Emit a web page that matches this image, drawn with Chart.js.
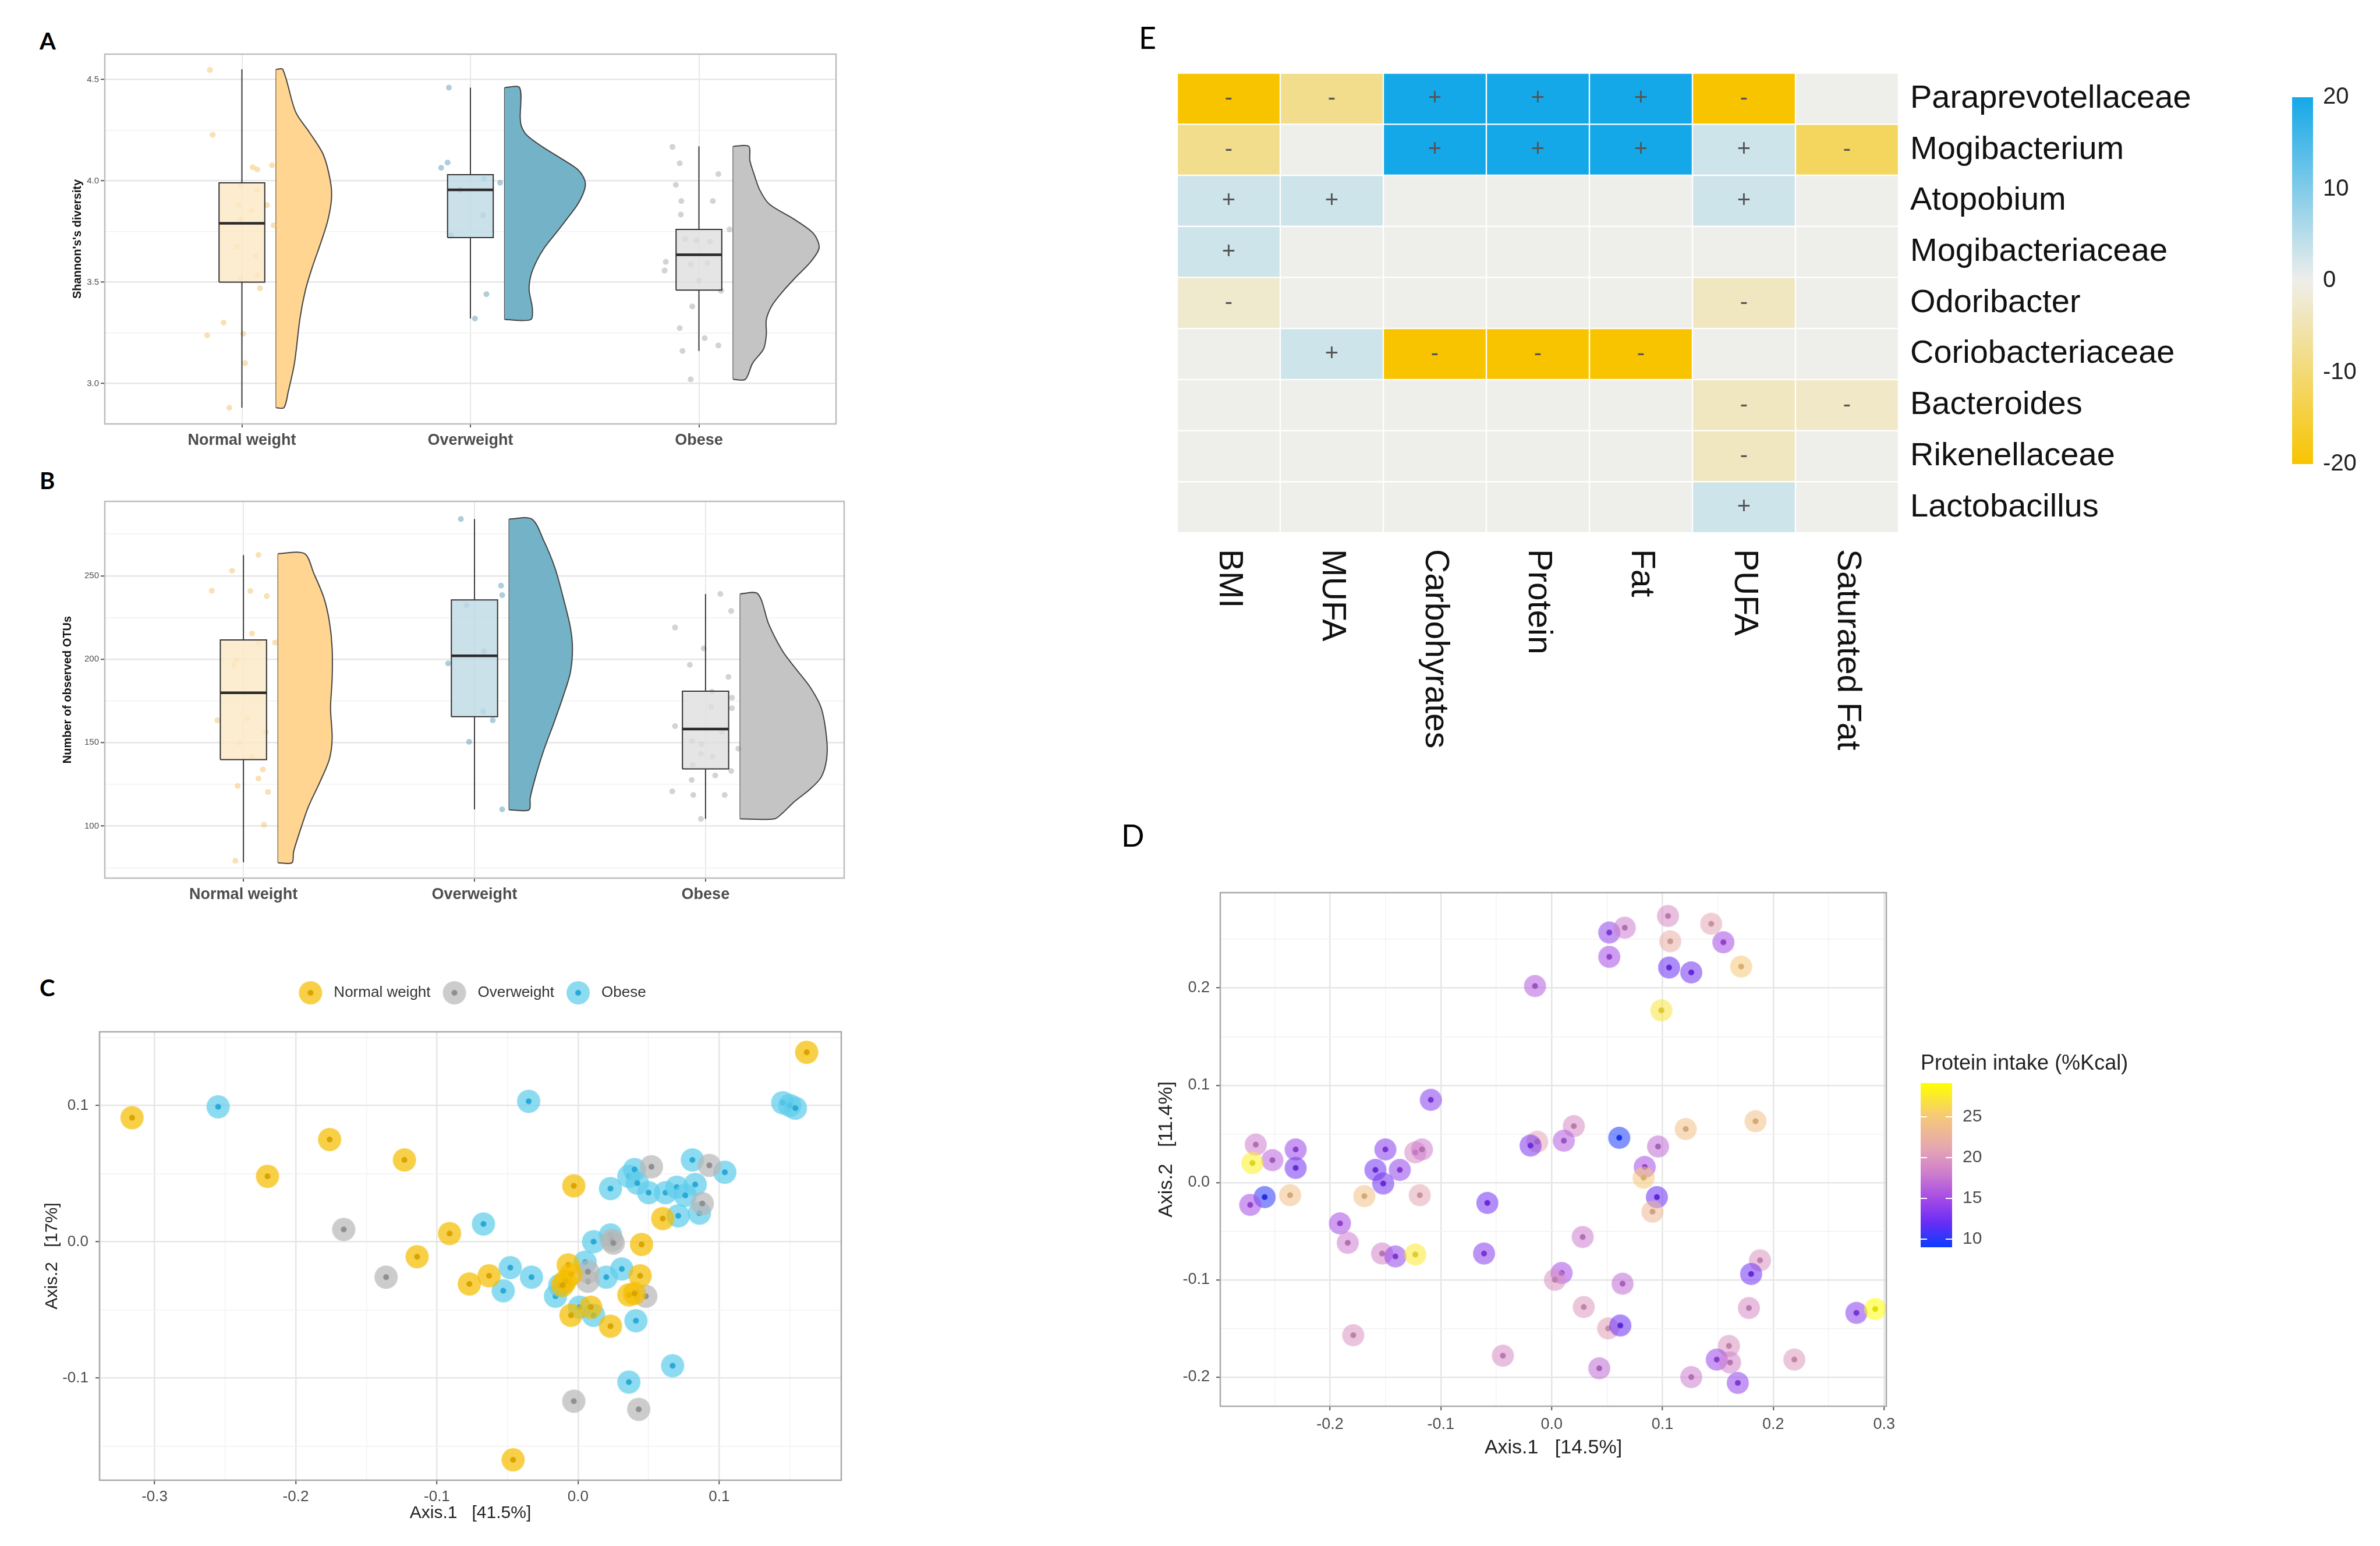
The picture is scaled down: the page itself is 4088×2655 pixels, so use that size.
<!DOCTYPE html>
<html>
<head>
<meta charset="utf-8">
<title>Gut microbiota panels</title>
<script src="https://cdn.jsdelivr.net/npm/chart.js@4.4.1/dist/chart.umd.min.js"></script>
<style>
  html, body { margin: 0; padding: 0; background: #ffffff; }
  body { position: relative; width: 4088px; height: 2655px; overflow: hidden; }
  canvas { position: absolute; }
  .tag { position: absolute; line-height: 1; color: #000; font-family: Lato, "Liberation Sans", sans-serif; }
  .tag.b { font-weight: bold; font-size: 40px; }
  .tag.r { font-size: 52px; }
</style>
</head>
<body>
<div class="tag b" style="left:68px;top:50px">A</div>
<div class="tag b" style="left:68px;top:805px">B</div>
<div class="tag b" style="left:68px;top:1676px">C</div>
<div class="tag r" style="left:1956px;top:38px">E</div>
<div class="tag r" style="left:1926px;top:1408px">D</div>
<canvas id="chartA"></canvas>
<canvas id="chartB"></canvas>
<canvas id="chartC"></canvas>
<canvas id="chartD"></canvas>
<canvas id="barD"></canvas>
<canvas id="chartE"></canvas>
<canvas id="barE"></canvas>
<script>
'use strict'

var groups = ['Normal weight', 'Overweight', 'Obese'];

// ---- A: Shannon diversity ----
var shannonLow = [2.88, 3.32, 3.16];
var shannonQ1 = [3.50, 3.72, 3.46];
var shannonMedian = [3.79, 3.955, 3.635];
var shannonQ3 = [3.99, 4.03, 3.76];
var shannonHigh = [4.55, 4.46, 4.17];
// violin outline, [value, half width] from bottom to top
var shannonViolinNormal = [[2.88, 0.034], [2.96, 0.053], [3.10, 0.08], [3.32, 0.104], [3.46, 0.128], [3.57, 0.157], [3.69, 0.194], [3.80, 0.225], [3.91, 0.242], [4.00, 0.237], [4.13, 0.206], [4.24, 0.145], [4.34, 0.085], [4.55, 0.029]];
var shannonViolinOver = [[3.315, 0.114], [3.37, 0.121], [3.46, 0.107], [3.53, 0.114], [3.60, 0.138], [3.67, 0.174], [3.74, 0.223], [3.81, 0.271], [3.885, 0.32], [3.955, 0.349], [4.00, 0.351], [4.055, 0.32], [4.11, 0.247], [4.17, 0.162], [4.225, 0.097], [4.27, 0.073], [4.31, 0.068], [4.46, 0.065]];
var shannonViolinObese = [[3.02, 0.053], [3.10, 0.085], [3.17, 0.133], [3.24, 0.145], [3.315, 0.145], [3.385, 0.17], [3.455, 0.218], [3.53, 0.279], [3.60, 0.339], [3.67, 0.376], [3.74, 0.351], [3.81, 0.267], [3.885, 0.158], [3.955, 0.116], [4.03, 0.092], [4.10, 0.073], [4.17, 0.068]];
var shannonDotsNormal = [[0.86, 4.547], [0.872, 4.227], [1.047, 4.067], [1.067, 4.056], [1.132, 4.077], [0.994, 3.98], [1.067, 3.955], [0.986, 3.88], [1.11, 3.88], [1.042, 3.855], [0.994, 3.81], [1.139, 3.78], [0.98, 3.675], [1.06, 3.63], [1.067, 3.535], [0.994, 3.52], [1.079, 3.47], [0.92, 3.30], [0.848, 3.237], [1.006, 3.245], [1.014, 3.10], [0.945, 2.88]];
var shannonDotsOver = [[1.906, 4.46], [1.872, 4.064], [1.90, 4.09], [2.06, 4.01], [1.955, 3.955], [2.055, 3.83], [1.916, 3.73], [2.07, 3.44], [2.02, 3.32], [2.13, 3.99]];
var shannonDotsObese = [[2.884, 4.167], [2.916, 4.086], [2.899, 3.98], [2.923, 3.90], [3.061, 3.90], [2.921, 3.833], [3.085, 4.033], [3.134, 3.76], [2.94, 3.712], [2.989, 3.705], [3.049, 3.70], [2.855, 3.60], [2.964, 3.586], [3.037, 3.593], [2.85, 3.557], [3.0, 3.507], [3.097, 3.457], [2.971, 3.38], [2.916, 3.273], [3.025, 3.223], [3.085, 3.187], [2.928, 3.16], [2.964, 3.02]];
var shannonTicks = [3.0, 3.25, 3.5, 3.75, 4.0, 4.25, 4.5];

// ---- B: observed OTUs ----
var otuLow = [78.3, 110, 104.3];
var otuQ1 = [139.8, 165.6, 134.2];
var otuMedian = [179.9, 202, 158.1];
var otuQ3 = [211.5, 235.5, 180.8];
var otuHigh = [262.4, 284, 239];
var otuViolinNormal = [[78, 0.06], [84.6, 0.067], [97.1, 0.095], [111.5, 0.131], [125.8, 0.179], [140.1, 0.222], [152.7, 0.234], [170.6, 0.227], [188.5, 0.234], [206.5, 0.234], [222.6, 0.222], [236.9, 0.198], [251.3, 0.155], [263.3, 0.114]];
var otuViolinOver = [[109.7, 0.086], [116.8, 0.091], [129.4, 0.114], [145.5, 0.150], [161.6, 0.193], [177.8, 0.234], [192.1, 0.265], [206.5, 0.274], [219, 0.265], [236.9, 0.234], [254.8, 0.198], [271, 0.150], [284, 0.098]];
var otuViolinObese = [[104.3, 0.148], [107.9, 0.184], [114.2, 0.231], [122.2, 0.303], [129.4, 0.351], [140.1, 0.374], [152.7, 0.374], [170.6, 0.351], [183.2, 0.303], [193.9, 0.243], [204.7, 0.184], [220.8, 0.124], [239.2, 0.076]];
var otuDotsNormal = [[1.065, 262.5], [0.951, 253], [0.863, 241], [1.03, 240.9], [1.101, 237.8], [1.037, 215.4], [1.065, 210], [1.137, 210], [0.97, 199.3], [0.958, 196.6], [0.887, 163.4], [1.018, 164.3], [1.096, 156.3], [0.982, 150], [1.037, 141.4], [1.084, 133.9], [1.065, 128.5], [0.975, 124], [1.106, 120.4], [1.089, 100.7], [0.965, 79.2]];
var otuDotsOver = [[1.941, 284], [2.115, 244.1], [2.12, 238.4], [1.965, 232.4], [2.041, 204.7], [1.886, 197.5], [2.038, 168.8], [2.079, 163.4], [1.977, 150.5], [2.12, 110]];
var otuDotsObese = [[3.064, 239.1], [3.111, 228.9], [2.868, 219], [2.992, 206.5], [2.932, 196.6], [3.099, 189.4], [3.028, 180.5], [3.114, 176.9], [3.023, 171.5], [3.114, 170.6], [2.868, 159.9], [3.071, 156.3], [2.942, 150.9], [2.982, 149.1], [3.142, 146.4], [2.98, 143.2], [3.03, 141.6], [2.944, 136.6], [3.111, 133], [3.042, 130.3], [2.94, 127.6], [2.856, 120.8], [2.947, 118.6], [3.083, 118.6], [2.98, 104.3]];
var otuTicks = [75, 100, 125, 150, 175, 200, 225, 250, 275];

// ---- C: PCoA coloured by BMI group ----
var bmiNormal = [[-0.316, 0.091], [-0.220, 0.048], [-0.176, 0.075], [-0.123, 0.060], [-0.003, 0.041], [0.162, 0.139], [-0.091, 0.006], [-0.114, -0.011], [-0.077, -0.031], [-0.063, -0.025], [0.060, 0.017], [0.045, -0.002], [-0.007, -0.017], [-0.005, -0.024], [-0.009, -0.029], [0.044, -0.025], [0.036, -0.039], [0.040, -0.038], [-0.005, -0.054], [0.023, -0.062], [0.009, -0.048], [-0.046, -0.160], [-0.011, -0.032]];
var bmiOver = [[-0.166, 0.009], [-0.136, -0.026], [0.052, 0.055], [0.093, 0.056], [0.088, 0.028], [0.024, 0.001], [0.025, -0.001], [0.007, -0.029], [0.007, -0.022], [0.048, -0.040], [-0.003, -0.117], [0.043, -0.123]];
var bmiObese = [[-0.255, 0.099], [-0.035, 0.103], [0.145, 0.102], [0.150, 0.100], [0.154, 0.098], [-0.067, 0.013], [-0.048, -0.019], [-0.033, -0.026], [-0.053, -0.036], [-0.016, -0.040], [-0.013, -0.032], [0.005, -0.015], [0.011, 0.000], [0.023, 0.005], [0.020, -0.026], [0.031, -0.020], [0.001, -0.048], [0.011, -0.054], [0.041, -0.058], [0.023, 0.039], [0.036, 0.048], [0.040, 0.053], [0.042, 0.043], [0.050, 0.036], [0.062, 0.036], [0.070, 0.040], [0.076, 0.034], [0.083, 0.042], [0.081, 0.060], [0.104, 0.051], [0.071, 0.019], [0.086, 0.021], [0.067, -0.091], [0.036, -0.103]];
var bmiTicksX = [-0.3, -0.25, -0.2, -0.15, -0.1, -0.05, 0, 0.05, 0.1, 0.15];
var bmiTicksY = [-0.15, -0.1, -0.05, 0, 0.05, 0.1, 0.15];

// ---- D: PCoA coloured by protein intake ----
var proteinPoints = [[0.105, 0.274], [0.052, 0.257], [0.066, 0.262], [0.144, 0.266], [0.107, 0.248], [0.155, 0.247], [0.052, 0.232], [0.106, 0.221], [0.126, 0.216], [0.171, 0.222], [-0.015, 0.202], [0.099, 0.177], [-0.109, 0.085], [0.184, 0.063], [0.121, 0.055], [0.020, 0.058], [0.061, 0.046], [0.011, 0.043], [-0.013, 0.042], [-0.019, 0.038], [0.096, 0.037], [-0.267, 0.039], [-0.252, 0.023], [-0.231, 0.034], [-0.231, 0.015], [-0.270, 0.020], [-0.259, -0.015], [-0.272, -0.023], [-0.236, -0.013], [-0.150, 0.034], [-0.159, 0.013], [-0.137, 0.013], [-0.152, -0.001], [-0.123, 0.031], [-0.117, 0.034], [-0.169, -0.014], [-0.119, -0.013], [-0.058, -0.021], [0.084, 0.016], [0.083, 0.005], [0.095, -0.015], [0.091, -0.030], [-0.191, -0.042], [-0.184, -0.062], [-0.153, -0.073], [-0.141, -0.076], [-0.123, -0.074], [-0.061, -0.073], [0.028, -0.056], [0.009, -0.093], [0.003, -0.100], [0.064, -0.104], [0.029, -0.128], [0.051, -0.150], [0.062, -0.147], [0.188, -0.080], [0.180, -0.094], [0.178, -0.129], [0.275, -0.134], [0.292, -0.130], [-0.179, -0.157], [-0.044, -0.178], [0.043, -0.191], [0.126, -0.200], [0.160, -0.168], [0.149, -0.182], [0.161, -0.185], [0.168, -0.206], [0.219, -0.182]];
var proteinIntake = [19, 14, 18, 21, 22, 15, 15, 12, 12.5, 25, 16, 27, 13.5, 24, 24, 19, 9.5, 16, 21, 13, 17, 18, 16.5, 14.5, 12.5, 28, 10, 15, 24, 13.5, 12.5, 14, 12.5, 19, 18, 24, 21, 12.5, 15, 25, 12, 23, 15, 18, 18.5, 14, 27.5, 13.5, 18, 15, 19.5, 17, 20, 20.5, 12, 19.5, 12.5, 19, 13.5, 29, 19.5, 19, 17, 18, 19.5, 14.5, 18.5, 14, 20];
var proteinTicksX = [-0.25, -0.2, -0.15, -0.1, -0.05, 0, 0.05, 0.1, 0.15, 0.2, 0.25, 0.3];
var proteinTicksY = [-0.2, -0.15, -0.1, -0.05, 0, 0.05, 0.1, 0.15, 0.2, 0.25];
var proteinBarTicks = [10, 15, 20, 25];

// ---- E: heatmap ----
var heatRows = ['Paraprevotellaceae', 'Mogibacterium', 'Atopobium', 'Mogibacteriaceae', 'Odoribacter', 'Coriobacteriaceae', 'Bacteroides', 'Rikenellaceae', 'Lactobacillus'];
var heatCols = ['BMI', 'MUFA', 'Carbohyrates', 'Protein', 'Fat', 'PUFA', 'Saturated Fat'];
var heatValues = [
  [-20, -8, 20, 20, 20, -20, 0],
  [-8, 0, 20, 20, 20, 3, -12],
  [3, 3, 0, 0, 0, 3, 0],
  [3, 0, 0, 0, 0, 0, 0],
  [-2.5, 0, 0, 0, 0, -3.5, 0],
  [0, 3, -20, -20, -20, 0, 0],
  [0, 0, 0, 0, 0, -3.5, -3],
  [0, 0, 0, 0, 0, -3.5, 0],
  [0, 0, 0, 0, 0, 3, 0]
];
var heatBarTicks = [-20, -10, 0, 10, 20];

// ---------- helpers ----------
Chart.defaults.font.family = '"Liberation Sans", Arial, sans-serif';
Chart.defaults.color = '#4d4d4d';

function mount(id, box) {
  var el = document.getElementById(id);
  el.width = box.w; el.height = box.h;
  el.style.left = box.l + 'px'; el.style.top = box.t + 'px';
  return el;
}
function pads(box, frame, yw, xh) {
  return { left: frame.l - box.l - yw, top: frame.t - box.t, right: box.l + box.w - frame.r, bottom: box.t + box.h - frame.b - xh };
}
function near(v, step) { var r = v / step; return Math.abs(r - Math.round(r)) < 1e-6; }
function fixedTicks(list) { return function (s) { s.ticks = list.map(function (v) { return { value: v }; }); }; }
function majorLabel(step, digits) { return function (v) { return near(v, step) ? v.toFixed(digits) : ''; }; }
function gridFor(step, major, minor) {
  return {
    color: function (c) { return c.tick && near(c.tick.value, step) ? major : minor; },
    lineWidth: function (c) { return c.tick && near(c.tick.value, step) ? 2.5 : 1.4; },
    tickColor: function (c) { return c.tick && near(c.tick.value, step) ? '#555555' : 'rgba(0,0,0,0)'; },
    tickLength: 7, tickWidth: 2
  };
}
var framePlugin = {
  id: 'frame',
  afterDraw: function (chart, args, opts) {
    var a = chart.chartArea, ctx = chart.ctx;
    ctx.save();
    ctx.strokeStyle = opts.color || '#b0b0b0';
    ctx.lineWidth = opts.width || 2.5;
    ctx.strokeRect(a.left, a.top, a.right - a.left, a.bottom - a.top);
    ctx.restore();
  }
};
function base(padding) {
  return { responsive: false, animation: false, devicePixelRatio: 1, events: [], layout: { padding: padding },
    plugins: { legend: { display: false }, tooltip: { enabled: false } } };
}

// ---------- A / B raincloud ----------
var violinFill = ['#ffd591', '#74b3c7', '#c4c4c4'];
var boxFill = ['rgba(253,232,196,0.8)', 'rgba(190,217,229,0.8)', 'rgba(222,222,222,0.8)'];
var dotFill = ['rgba(242,186,90,0.45)', 'rgba(80,145,175,0.45)', 'rgba(130,130,130,0.35)'];

function rainChart(id, box, frame, cfg) {
  var el = mount(id, box);
  var ds = [];
  groups.forEach(function (g, i) {
    var c = i + 1, b = c + 0.15, v = cfg.violins[i];
    var outline = [{ x: b, y: v[0][0] }].concat(v.map(function (p) { return { x: b + p[1], y: p[0] }; }), [{ x: b, y: v[v.length - 1][0] }]);
    ds.push({ data: [{ x: c - 0.1, y: cfg.med[i] }, { x: c + 0.1, y: cfg.med[i] }], borderColor: '#2b2b2b', borderWidth: 4.5, pointRadius: 0, order: 0 });
    ds.push({ data: [{ x: c, y: cfg.low[i] }, { x: c, y: cfg.q1[i] }, { x: c, y: null }, { x: c, y: cfg.q3[i] }, { x: c, y: cfg.high[i] }], spanGaps: false, borderColor: '#3a3a3a', borderWidth: 2, pointRadius: 0, order: 1 });
    ds.push({ data: [{ x: c - 0.1, y: cfg.q1[i] }, { x: c + 0.1, y: cfg.q1[i] }, { x: c + 0.1, y: cfg.q3[i] }, { x: c - 0.1, y: cfg.q3[i] }, { x: c - 0.1, y: cfg.q1[i] }], fill: 'shape', backgroundColor: boxFill[i], borderColor: '#333', borderWidth: 2, pointRadius: 0, order: 2 });
    ds.push({ data: cfg.dots[i].map(function (p) { return { x: p[0], y: p[1] }; }), showLine: false, pointRadius: 5, backgroundColor: dotFill[i], borderWidth: 0, order: 3 });
    ds.push({ data: outline, fill: 'shape', backgroundColor: violinFill[i], borderColor: '#444', borderWidth: 2, pointRadius: 0, tension: 0.3, order: 4 });
    ds.push({ data: [{ x: b, y: v[0][0] }, { x: b, y: v[v.length - 1][0] }], borderColor: '#444', borderWidth: 2, pointRadius: 0, order: 4 });
  });
  var opts = base(pads(box, frame, 120, 60));
  opts.plugins.frame = { color: '#bdbdbd', width: 2.5 };
  opts.scales = {
    x: { type: 'linear', min: 0.4, max: 3.6, afterBuildTicks: fixedTicks([1, 2, 3]), afterFit: function (s) { s.height = 60; },
      grid: { color: '#e8e8e8', lineWidth: 2, tickLength: 6, tickWidth: 2, tickColor: '#555' }, border: { display: false },
      ticks: { autoSkip: false, maxRotation: 0, padding: 6, color: '#4d4d4d', font: { size: 27, weight: 'bold' },
        callback: function (v) { return groups[Math.round(v) - 1]; } } },
    y: { type: 'linear', min: cfg.min, max: cfg.max, afterBuildTicks: fixedTicks(cfg.ticks), afterFit: function (s) { s.width = 120; },
      grid: gridFor(cfg.step, '#e6e6e6', '#f2f2f2'), border: { display: false },
      ticks: { autoSkip: false, padding: 3, color: '#4d4d4d', font: { size: 15 }, callback: majorLabel(cfg.step, cfg.digits) },
      title: { display: true, text: cfg.title, color: '#111', font: { size: 20, weight: 'bold' }, padding: { top: cfg.titlePad } } }
  };
  return new Chart(el, { type: 'line', data: { datasets: ds }, options: opts, plugins: [framePlugin] });
}

rainChart('chartA', { l: 60, t: 60, w: 1420, h: 760 }, { l: 180, t: 93, r: 1436, b: 728 }, {
  low: shannonLow, q1: shannonQ1, med: shannonMedian, q3: shannonQ3, high: shannonHigh,
  violins: [shannonViolinNormal, shannonViolinOver, shannonViolinObese],
  dots: [shannonDotsNormal, shannonDotsOver, shannonDotsObese],
  min: 2.80, max: 4.625, ticks: shannonTicks, step: 0.5, digits: 1,
  title: "Shannon's's diversity", titlePad: 61
});
rainChart('chartB', { l: 60, t: 820, w: 1420, h: 780 }, { l: 180, t: 861, r: 1450, b: 1508 }, {
  low: otuLow, q1: otuQ1, med: otuMedian, q3: otuQ3, high: otuHigh,
  violins: [otuViolinNormal, otuViolinOver, otuViolinObese],
  dots: [otuDotsNormal, otuDotsOver, otuDotsObese],
  min: 68.8, max: 294.6, ticks: otuTicks, step: 50, digits: 0,
  title: 'Number of observed OTUs', titlePad: 44
});

// ---------- markers ----------
function markerImage(rgb, alpha, core, r, coreR) {
  var cv = document.createElement('canvas');
  var s = 2 * r + 2;
  cv.width = s; cv.height = s;
  var g = cv.getContext('2d');
  g.fillStyle = 'rgba(' + rgb.join(',') + ',' + alpha + ')';
  g.beginPath(); g.arc(s / 2, s / 2, r, 0, Math.PI * 2); g.fill();
  g.fillStyle = core;
  g.beginPath(); g.arc(s / 2, s / 2, coreR, 0, Math.PI * 2); g.fill();
  return cv;
}

// ---------- C ----------
(function () {
  var box = { l: 40, t: 1660, w: 1440, h: 990 }, frame = { l: 171, t: 1776, r: 1445, b: 2542 };
  var marks = [
    markerImage([245, 190, 0], 0.72, '#d9a300', 20, 5),
    markerImage([185, 185, 185], 0.72, '#8f8f8f', 20, 5),
    markerImage([95, 205, 235], 0.72, '#2aa9d6', 20, 5)
  ];
  var series = [bmiNormal, bmiOver, bmiObese];
  var opts = base({ left: 0, top: 18, right: box.l + box.w - frame.r, bottom: box.t + box.h - frame.b - 80 });
  opts.plugins.frame = { color: '#a8a8a8', width: 2.5 };
  opts.plugins.legend = { display: true, position: 'top', fullSize: false,
    labels: { usePointStyle: true, pointStyleWidth: 54, padding: 14, color: '#333', font: { size: 26 } } };
  opts.scales = {
    x: { type: 'linear', min: -0.339, max: 0.1865, afterBuildTicks: fixedTicks(bmiTicksX), afterFit: function (s) { s.height = 80; },
      grid: gridFor(0.1, '#e6e6e6', '#f2f2f2'), border: { display: false },
      ticks: { autoSkip: false, maxRotation: 0, padding: 6, color: '#4d4d4d', font: { size: 26 }, callback: majorLabel(0.1, 1) },
      title: { display: true, text: 'Axis.1   [41.5%]', color: '#222', font: { size: 30 }, padding: { bottom: 5 } } },
    y: { type: 'linear', min: -0.175, max: 0.154, afterBuildTicks: fixedTicks(bmiTicksY), afterFit: function (s) { s.width = 131; },
      grid: gridFor(0.1, '#e6e6e6', '#f2f2f2'), border: { display: false },
      ticks: { autoSkip: false, padding: 12, color: '#4d4d4d', font: { size: 26 }, callback: majorLabel(0.1, 1) },
      title: { display: true, text: 'Axis.2   [17%]', color: '#222', font: { size: 30 }, padding: { top: 32 } } },
    gap: { type: 'linear', position: 'top', display: true, grid: { display: false, drawTicks: false }, border: { display: false },
      ticks: { display: false }, afterFit: function (s) { s.height = 44; } }
  };
  new Chart(mount('chartC', box), {
    type: 'scatter',
    data: { datasets: groups.map(function (g, i) {
      return { label: g, data: series[i].map(function (p) { return { x: p[0], y: p[1] }; }), pointStyle: marks[i], pointRadius: 20 };
    }) },
    options: opts,
    plugins: [framePlugin]
  });
})();

// ---------- D ----------
var proteinStops = [[9, [10, 60, 255]], [12, [105, 45, 245]], [15, [165, 75, 230]], [18, [205, 125, 205]], [21, [228, 165, 180]], [25, [245, 200, 120]], [29.1, [255, 255, 0]]];
function proteinColor(v) {
  var s = proteinStops;
  if (v <= s[0][0]) return s[0][1];
  for (var i = 1; i < s.length; i++) {
    if (v <= s[i][0]) {
      var t = (v - s[i - 1][0]) / (s[i][0] - s[i - 1][0]);
      return s[i - 1][1].map(function (k, j) { return Math.round(k + (s[i][1][j] - k) * t); });
    }
  }
  return s[s.length - 1][1];
}
var markerCache = {};
function proteinMarker(v) {
  var key = v.toFixed(2);
  if (!markerCache[key]) {
    var rgb = proteinColor(v);
    markerCache[key] = markerImage(rgb, 0.55, 'rgb(' + rgb.map(function (k) { return Math.round(k * 0.88); }).join(',') + ')', 19, 5);
  }
  return markerCache[key];
}
(function () {
  var box = { l: 1950, t: 1480, w: 1330, h: 1060 }, frame = { l: 2096, t: 1533, r: 3240, b: 2415 };
  var opts = base(pads(box, frame, 146, 100));
  opts.plugins.frame = { color: '#a8a8a8', width: 2.5 };
  opts.scales = {
    x: { type: 'linear', min: -0.299, max: 0.302, afterBuildTicks: fixedTicks(proteinTicksX), afterFit: function (s) { s.height = 100; },
      grid: gridFor(0.1, '#e6e6e6', '#f2f2f2'), border: { display: false },
      ticks: { autoSkip: false, maxRotation: 0, padding: 8, color: '#4d4d4d', font: { size: 27 }, callback: majorLabel(0.1, 1) },
      title: { display: true, text: 'Axis.1   [14.5%]', color: '#222', font: { size: 34 }, padding: { bottom: 7.6 } } },
    y: { type: 'linear', min: -0.23, max: 0.298, afterBuildTicks: fixedTicks(proteinTicksY), afterFit: function (s) { s.width = 146; },
      grid: gridFor(0.1, '#e6e6e6', '#f2f2f2'), border: { display: false },
      ticks: { autoSkip: false, padding: 11, color: '#4d4d4d', font: { size: 27 }, callback: majorLabel(0.1, 1) },
      title: { display: true, text: 'Axis.2   [11.4%]', color: '#222', font: { size: 34 }, padding: { top: 33.6 } } }
  };
  new Chart(mount('chartD', box), {
    type: 'scatter',
    data: { datasets: [{ label: 'Protein intake (%Kcal)', data: proteinPoints.map(function (p) { return { x: p[0], y: p[1] }; }),
      pointRadius: 19,
      pointStyle: function (c) { return c.dataIndex === undefined ? 'circle' : proteinMarker(proteinIntake[c.dataIndex]); } }] },
    options: opts,
    plugins: [framePlugin]
  });
})();

// ---------- colour bars ----------
function colorBar(id, box, padding, yw, min, max, stops, ticks, extra) {
  var opts = base(padding);
  opts.scales = {
    x: { display: false },
    y: { type: 'linear', position: 'right', min: min, max: max, afterBuildTicks: fixedTicks(ticks), afterFit: function (s) { s.width = yw; },
      grid: extra.grid, border: extra.border,
      ticks: { autoSkip: false, padding: extra.pad, color: extra.color, font: { size: extra.size } } }
  };
  if (extra.title) opts.plugins.title = extra.title;
  return new Chart(mount(id, box), {
    type: 'bar',
    data: { labels: [''], datasets: [{ data: [[min, max]], borderWidth: 0, barPercentage: 1, categoryPercentage: 1,
      backgroundColor: function (c) {
        var a = c.chart.chartArea;
        if (!a) return 'rgba(0,0,0,0)';
        var g = c.chart.ctx.createLinearGradient(0, a.bottom, 0, a.top);
        stops.forEach(function (s) { g.addColorStop((s[0] - min) / (max - min), s[1]); });
        return g;
      } }] },
    options: opts
  });
}
colorBar('barD', { l: 3299, t: 1790, w: 420, h: 400 }, { left: 0, top: 0, right: 0, bottom: 48 }, 366, 9.0, 29.1,
  proteinStops.map(function (s) { return [Math.min(s[0], 29.1), 'rgb(' + s[1].join(',') + ')']; }), proteinBarTicks, {
    grid: { display: true, color: '#ffffff', lineWidth: 2, drawTicks: false, z: 1 }, border: { display: false, dash: [11, 32] },
    pad: 18, color: '#4d4d4d', size: 30,
    title: { display: true, text: 'Protein intake (%Kcal)', align: 'start', color: '#222', font: { size: 36, weight: 'normal' }, padding: { top: 15, bottom: 11.8 } }
  });

// ---------- E heatmap ----------
var heatGold = [248, 196, 0], heatBlue = [20, 168, 232], heatMid = [238, 238, 234];
function heatColor(v) {
  var t = Math.min(Math.abs(v) / 20, 1), end = v >= 0 ? heatBlue : heatGold;
  return 'rgb(' + heatMid.map(function (k, j) { return Math.round(k + (end[j] - k) * t); }).join(',') + ')';
}
var signPlugin = {
  id: 'signs',
  afterDatasetsDraw: function (chart) {
    var ctx = chart.ctx;
    ctx.save();
    ctx.font = '40px "Liberation Sans", Arial, sans-serif';
    ctx.fillStyle = '#555';
    ctx.textAlign = 'center'; ctx.textBaseline = 'middle';
    heatValues.forEach(function (vals, i) {
      var meta = chart.getDatasetMeta(i);
      vals.forEach(function (v, j) {
        if (!v) return;
        var bar = meta.data[j];
        ctx.fillText(v > 0 ? '+' : '-', bar.x, (bar.y + bar.base) / 2);
      });
    });
    ctx.restore();
  },
  afterDraw: function (chart) {
    var ctx = chart.ctx, xs = chart.scales.x, top = chart.chartArea.bottom + 28;
    ctx.save();
    ctx.font = '57px "Liberation Sans", Arial, sans-serif';
    ctx.fillStyle = '#111';
    ctx.textAlign = 'left'; ctx.textBaseline = 'middle';
    heatCols.forEach(function (label, j) {
      ctx.save();
      ctx.translate(xs.getPixelForValue(j), top);
      ctx.rotate(Math.PI / 2);
      ctx.fillText(label, 0, 0);
      ctx.restore();
    });
    ctx.restore();
  }
};
(function () {
  var box = { l: 2002, t: 72, w: 1800, h: 1300 };
  var opts = base({ left: 20, top: 50, right: 0, bottom: 1372 - 915 });
  opts.scales = {
    x: { display: false },
    y: { type: 'linear', position: 'right', min: 0, max: heatRows.length, reverse: true,
      afterBuildTicks: function (s) { s.ticks = heatRows.map(function (r, i) { return { value: i + 0.5 }; }); },
      afterFit: function (s) { s.width = 541; },
      grid: { display: false, drawTicks: false }, border: { display: false },
      ticks: { autoSkip: false, padding: 20, color: '#111', font: { size: 56 }, callback: function (v) { return heatRows[Math.floor(v)]; } } }
  };
  new Chart(mount('chartE', box), {
    type: 'bar',
    data: { labels: heatCols, datasets: heatRows.map(function (row, i) {
      return { label: row, data: heatCols.map(function () { return [i, i + 1]; }), backgroundColor: heatValues[i].map(heatColor),
        borderColor: '#ffffff', borderWidth: 1.5, borderSkipped: false, grouped: false, barPercentage: 1, categoryPercentage: 1 };
    }) },
    options: opts,
    plugins: [signPlugin]
  });
})();
colorBar('barE', { l: 3937, t: 120, w: 151, h: 740 }, { left: 0, top: 47, right: 0, bottom: 63 }, 115, -20, 20,
  [[-20, heatColor(-20)], [0, heatColor(0)], [20, heatColor(20)]], heatBarTicks, {
    grid: { display: false, drawTicks: false }, border: { display: false }, pad: 17, color: '#222', size: 40
  });
</script>
</body>
</html>
